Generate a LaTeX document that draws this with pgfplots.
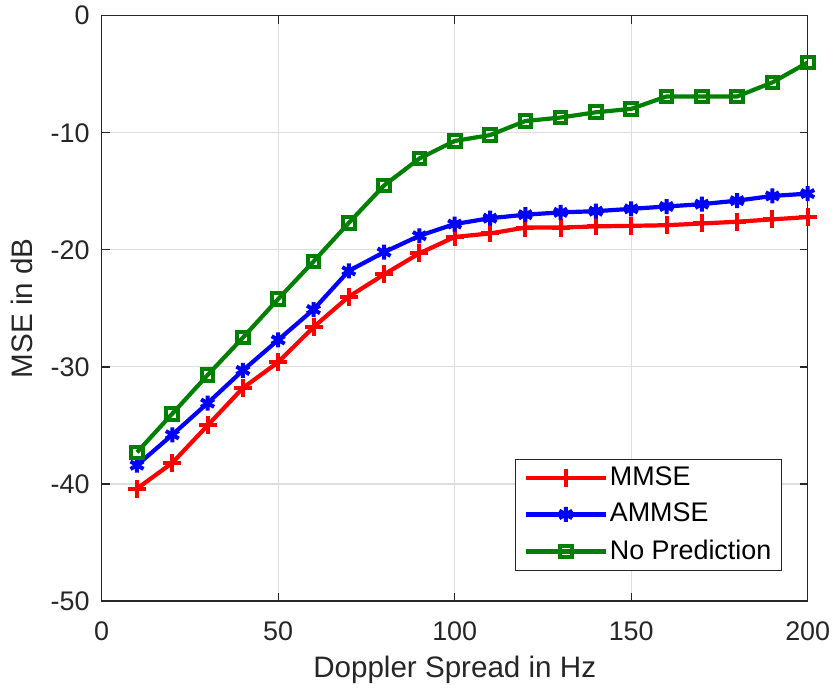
\documentclass[border=0pt]{standalone}
\usepackage{fontspec}
\setmainfont{Liberation Sans}
\usepackage{pgfplots}
\pgfplotsset{compat=1.18}
\definecolor{mgreen}{rgb}{0,0.5,0}
\definecolor{axgray}{rgb}{0.15,0.15,0.15}
\begin{document}
\fontsize{27}{32}\selectfont
\begin{tikzpicture}
\begin{axis}[
  scale only axis,
  width=706bp, height=585.3bp,
  xmin=0, xmax=200, ymin=-50, ymax=0,
  xtick={0,50,100,150,200},
  ytick={-50,-40,-30,-20,-10,0},
  grid=major,
  major grid style={line width=1.2bp, color=black!13},
  axis line style={line width=1.3bp, color=axgray},
  tick style={line width=1.3bp, color=axgray},
  major tick length=8bp,
  tick align=inside,
  /pgf/number format/assume math mode=true,
  ticklabel style={font=\fontsize{27}{32}\selectfont, color=axgray},
  xticklabel style={yshift=-12bp},
  yticklabel style={xshift=-3bp},
  label style={font=\fontsize{29.7}{35}\selectfont, color=axgray},
  xlabel={Doppler Spread in Hz},
  ylabel={MSE in dB},
  xlabel style={yshift=3bp},
  legend style={at={(1,0)}, xshift=-25.7bp, yshift=30bp, anchor=south east,
    font=\fontsize{27}{32}\selectfont,
    draw=axgray, line width=1.3bp, inner xsep=8bp, inner ysep=5bp, row sep=10bp,
    cells={anchor=west}},
  legend cell align=left,
  legend image code/.code={
    \draw[#1, mark repeat=2, mark phase=2] plot coordinates {(0bp,0bp) (40bp,0bp) (80bp,0bp)};
  },
]
\addplot[color=red, line width=4.2bp, mark=+, mark size=9bp, mark options={line width=4bp, solid}] coordinates {
(10,-40.4) (20,-38.2) (30,-35.0) (40,-31.8) (50,-29.6) (60,-26.6) (70,-24.0) (80,-22.1) (90,-20.3) (100,-18.9)
(110,-18.6) (120,-18.1) (130,-18.1) (140,-18.0) (150,-17.95) (160,-17.9) (170,-17.75) (180,-17.6) (190,-17.4) (200,-17.2)};
\addlegendentry{MMSE}
\addplot[color=blue, line width=4.2bp, mark=asterisk, mark size=7.5bp, mark options={line width=4bp, solid}] coordinates {
(10,-38.4) (20,-35.8) (30,-33.1) (40,-30.3) (50,-27.7) (60,-25.1) (70,-21.8) (80,-20.2) (90,-18.8) (100,-17.8)
(110,-17.3) (120,-17.0) (130,-16.8) (140,-16.7) (150,-16.5) (160,-16.3) (170,-16.1) (180,-15.8) (190,-15.4) (200,-15.2)};
\addlegendentry{AMMSE}
\addplot[color=mgreen, line width=4.2bp, mark=square, mark size=5.8bp, mark options={line width=4bp, solid, rounded corners=2.5bp}] coordinates {
(10,-37.3) (20,-34.0) (30,-30.7) (40,-27.5) (50,-24.2) (60,-21.0) (70,-17.7) (80,-14.5) (90,-12.2) (100,-10.7)
(110,-10.2) (120,-9.0) (130,-8.7) (140,-8.25) (150,-7.96) (160,-6.9) (170,-6.9) (180,-6.9) (190,-5.7) (200,-4.0)};
\addlegendentry{No Prediction}
\end{axis}
\pgfresetboundingbox
\path (current axis.south west) ++(-101.7bp,-88bp) rectangle ++(834bp,689bp);
\end{tikzpicture}
\end{document}
